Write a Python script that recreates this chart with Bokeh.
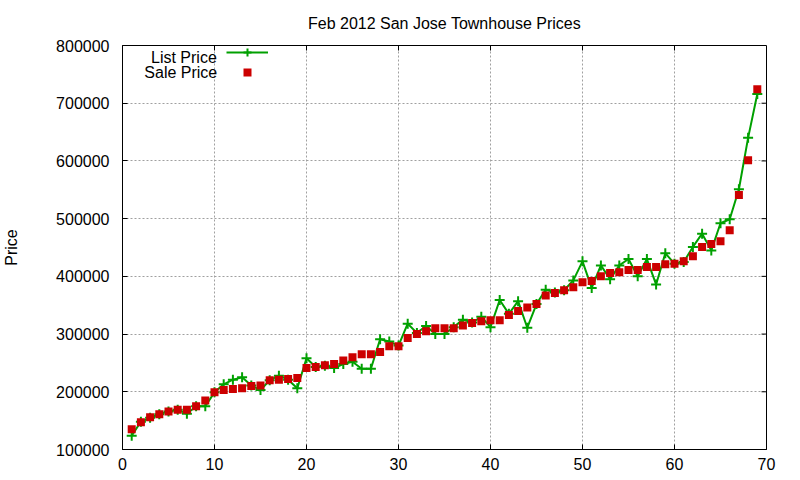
import math
from bokeh.plotting import figure
from bokeh.models import (Range1d, FixedTicker, BasicTickFormatter,
                          Legend, LegendItem, Label)
from bokeh.embed import file_html
from bokeh.resources import INLINE

# ---- data ----
listing_no = list(range(1, 70))
list_price = [124000, 148000, 155000, 161000, 166000, 169000, 162000, 175000, 175000, 199000,
              213000, 221000, 225000, 211000, 203000, 220000, 228000, 221000, 206000, 258000,
              243000, 245000, 241000, 248000, 252000, 240000, 240000, 291000, 287000, 280000,
              318000, 302000, 314000, 300000, 300000, 312000, 325000, 320000, 330000, 312000,
              359000, 335000, 357000, 311000, 352000, 377000, 372000, 376000, 393000, 426000,
              380000, 419000, 395000, 419000, 430000, 400000, 430000, 386000, 440000, 422000,
              425000, 451000, 474000, 445000, 492000, 499000, 551000, 640000, 716000]
sale_price = [135000, 147000, 156000, 161000, 166000, 169000, 169000, 175000, 185000, 199000,
              203000, 205000, 206000, 210000, 211000, 220000, 221000, 222000, 224000, 241000,
              243000, 246000, 248000, 254000, 260000, 265000, 265000, 269000, 279000, 279000,
              293000, 300000, 305000, 310000, 310000, 310000, 315000, 319000, 322000, 324000,
              324000, 333000, 340000, 346000, 352000, 367000, 371000, 376000, 381000, 390000,
              392000, 400000, 406000, 407000, 411000, 411000, 416000, 416000, 421000, 422000,
              426000, 435000, 451000, 456000, 461000, 480000, 541000, 601000, 724000]
x_ticks = [0, 10, 20, 30, 40, 50, 60, 70]
y_ticks = [100000, 200000, 300000, 400000, 500000, 600000, 700000, 800000]
title_text = "Feb 2012 San Jose Townhouse Prices"
y_label = "Price"
series_names = ["List Price", "Sale Price"]

GREEN = "#00a000"
RED = "#cc0000"
FONT = "Liberation Sans"
TICK = 5

p = figure(width=792, height=472, output_backend="svg", toolbar_location=None,
           x_range=Range1d(x_ticks[0], x_ticks[-1]), y_range=Range1d(y_ticks[0], y_ticks[-1]),
           min_border_left=119, min_border_right=26, min_border_top=45, min_border_bottom=23,
           background_fill_color="white", border_fill_color="white")

p.title.text = title_text
p.title.text_font = FONT
p.title.text_font_size = "16px"
p.title.text_font_style = "normal"
p.title.align = "center"
p.title.vertical_align = "top"
p.title.text_color = "black"
p.title.standoff = 23

p.outline_line_color = "black"
p.outline_line_width = 1

for ax, ticks in ((p.xaxis[0], x_ticks), (p.yaxis[0], y_ticks)):
    ax.ticker = FixedTicker(ticks=ticks)
    ax.formatter = BasicTickFormatter(use_scientific=False)
    ax.major_label_text_font = FONT
    ax.major_label_text_font_size = "16px"
    ax.major_label_text_color = "black"
    ax.major_tick_in = TICK
    ax.major_tick_out = 0
    ax.minor_tick_line_color = None
    ax.axis_line_color = "black"
    ax.major_tick_line_color = "black"

p.xaxis[0].major_label_standoff = 8
p.yaxis[0].major_label_standoff = 13
p.yaxis[0].axis_label = y_label
p.yaxis[0].axis_label_text_font = FONT
p.yaxis[0].axis_label_text_font_size = "16px"
p.yaxis[0].axis_label_text_font_style = "normal"
p.yaxis[0].axis_label_text_color = "black"
p.yaxis[0].axis_label_standoff = 33

for g in (p.xgrid[0], p.ygrid[0]):
    g.grid_line_color = "#a0a0a0"
    g.grid_line_dash = "2 2"
    g.grid_line_width = 1
p.xgrid[0].ticker = FixedTicker(ticks=x_ticks)
p.ygrid[0].ticker = FixedTicker(ticks=y_ticks)

# mirrored inward tick marks on the top and right edges of the frame
inner_x = x_ticks[1:-1]
inner_y = y_ticks[1:-1]
p.ray(x=inner_x, y=[y_ticks[-1]] * len(inner_x), length=TICK, length_units="screen",
      angle=-math.pi / 2, line_color="black", line_width=1)
p.ray(x=[x_ticks[-1]] * len(inner_y), y=inner_y, length=TICK, length_units="screen",
      angle=math.pi, line_color="black", line_width=1)

lr = p.line(listing_no, list_price, line_color=GREEN, line_width=2)
pr = p.scatter(listing_no, list_price, marker="cross", size=10, line_color=GREEN, line_width=2)
sr = p.scatter(listing_no, sale_price, marker="square", size=8, fill_color=RED, line_color=None)

legend = Legend(items=[LegendItem(label=" ", renderers=[lr, pr]),
                       LegendItem(label=" ", renderers=[sr])],
                location=(104, 367), glyph_width=42, glyph_height=20, label_height=20,
                spacing=-5, padding=0, margin=0, border_line_color=None,
                background_fill_alpha=0, label_text_font_size="16px", label_standoff=0,
                label_width=1)
p.add_layout(legend)

for name, lx, ly in ((series_names[0], 10.25, 779400), (series_names[1], 10.3, 753400)):
    p.add_layout(Label(x=lx, y=ly, text=name, text_align="right", text_baseline="middle",
                       text_font=FONT, text_font_size="16px", text_color="black"))

open("out.html", "w").write(file_html(p, INLINE))
